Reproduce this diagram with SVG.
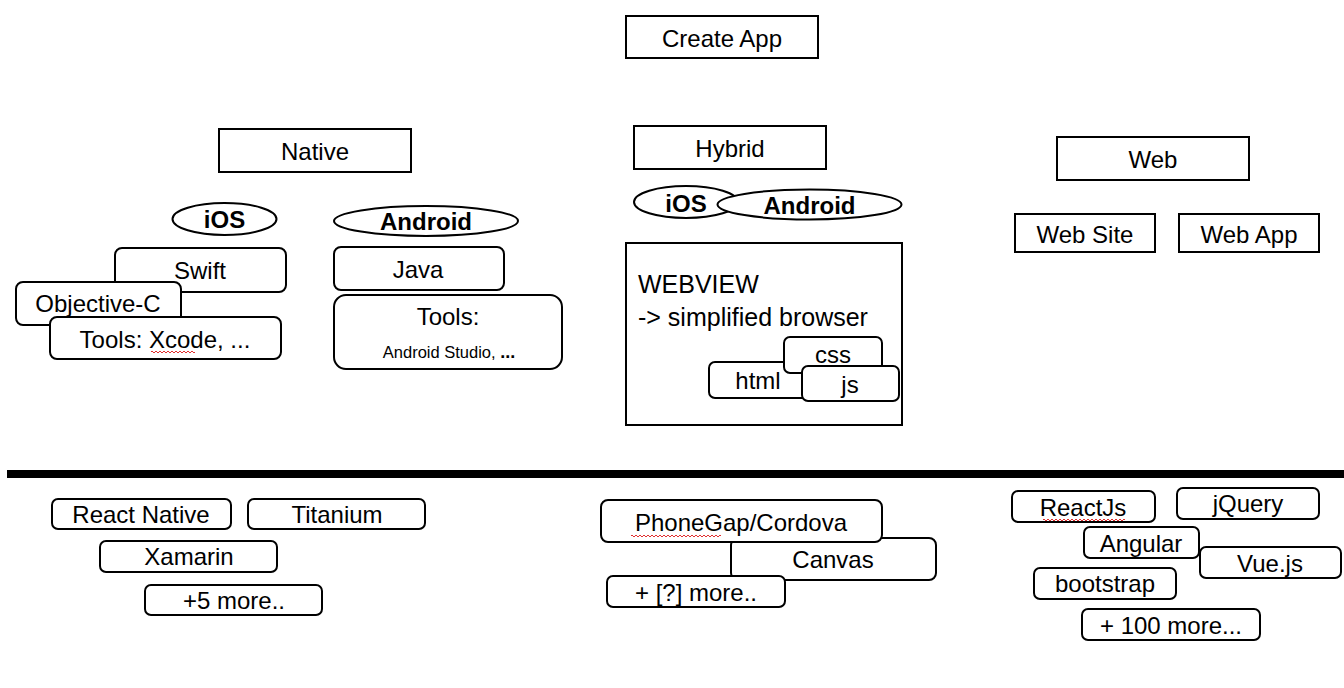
<svg xmlns="http://www.w3.org/2000/svg" width="1344" height="688" viewBox="0 0 1344 688">
<style>
text{font-family:"Liberation Sans",Arial,sans-serif;font-size:24px;fill:#000;text-anchor:middle}
.b{font-weight:bold}
.l{text-anchor:start;font-size:25px}
.box{fill:#fff;stroke:#000;stroke-width:2}
.sq{fill:none;stroke:#e03030;stroke-width:1}
</style>
<rect width="1344" height="688" fill="#fff"/>
<g id="create-app"><rect class="box" x="626" y="16" width="192" height="42"/><text x="722" y="47">Create App</text></g>
<g id="native"><rect class="box" x="219" y="129" width="192" height="43"/><text x="315" y="160">Native</text></g>
<g id="hybrid"><rect class="box" x="634" y="126" width="192" height="43"/><text x="730" y="157">Hybrid</text></g>
<g id="web"><rect class="box" x="1057" y="137" width="192" height="43"/><text x="1153" y="168">Web</text></g>
<g id="web-site"><rect class="box" x="1015" y="214" width="140" height="38"/><text x="1085" y="243">Web Site</text></g>
<g id="web-app"><rect class="box" x="1179" y="214" width="140" height="38"/><text x="1249" y="243">Web App</text></g>

<g id="native-ios"><ellipse class="box" cx="224.5" cy="219" rx="52" ry="16"/><text class="b" x="224.5" y="228">iOS</text></g>
<g id="native-android"><ellipse class="box" cx="426" cy="221" rx="92" ry="15"/><text class="b" x="426" y="230">Android</text></g>
<g id="swift"><rect class="box" x="115" y="248" width="171" height="44" rx="7"/><text x="200" y="279">Swift</text></g>
<g id="objective-c"><rect class="box" x="16" y="282" width="165" height="43" rx="7"/><text x="98" y="312">Objective-C</text></g>
<g id="tools-xcode"><rect class="box" x="50" y="317" width="231" height="42" rx="7"/><text x="165" y="348">Tools: Xcode, ...</text><path class="sq" d="M151 352 q1 -2 2 0 t2 0 t2 0 t2 0 t2 0 t2 0 t2 0 t2 0 t2 0 t2 0 t2 0 t2 0 t2 0 t2 0 t2 0 t2 0 t2 0 t2 0 t2 0 t2 0 t2 0 t2 0"/></g>
<g id="java"><rect class="box" x="334" y="247" width="170" height="43" rx="7"/><text x="418" y="278">Java</text></g>
<g id="tools-android"><rect class="box" x="334" y="295" width="228" height="74" rx="12"/><text x="448" y="325">Tools:</text><text x="449" y="358" style="font-size:16.5px">Android Studio, <tspan class="b" style="font-size:18px">...</tspan></text></g>

<g id="hybrid-ios"><ellipse class="box" cx="686" cy="202" rx="52" ry="16"/><text class="b" x="686" y="212">iOS</text></g>
<g id="hybrid-android"><ellipse class="box" cx="809.5" cy="204.5" rx="92" ry="15"/><text class="b" x="809.5" y="214">Android</text></g>
<g id="webview"><rect class="box" x="626" y="243" width="276" height="182"/><text class="l" x="638" y="293">WEBVIEW</text><text class="l" x="638" y="326">-&gt; simplified browser</text></g>
<g id="html"><rect class="box" x="709" y="362" width="105" height="36" rx="6"/><text x="758" y="389">html</text></g>
<g id="css"><rect class="box" x="784" y="337" width="98" height="36" rx="6"/><text x="833" y="363">css</text></g>
<g id="js"><rect class="box" x="802" y="366" width="97" height="35" rx="6"/><text x="850" y="393">js</text></g>

<g id="connectors"><line x1="7" y1="474" x2="1356" y2="474" stroke="#000" stroke-width="8"/></g>

<g id="react-native"><rect class="box" x="52" y="499" width="179" height="30" rx="6"/><text x="141" y="523">React Native</text></g>
<g id="titanium"><rect class="box" x="248" y="499" width="177" height="30" rx="6"/><text x="337" y="523">Titanium</text></g>
<g id="xamarin"><rect class="box" x="100" y="541" width="177" height="31" rx="6"/><text x="189" y="565">Xamarin</text></g>
<g id="plus5"><rect class="box" x="145" y="585" width="177" height="30" rx="6"/><text x="234" y="609">+5 more..</text></g>

<g id="canvas"><rect class="box" x="731" y="538" width="205" height="42" rx="7"/><text x="833" y="568">Canvas</text></g>
<g id="phonegap"><rect class="box" x="601" y="500" width="281" height="42" rx="7"/><text x="741" y="531">PhoneGap/Cordova</text><path class="sq" d="M631 536 q1 -2 2 0 t2 0 t2 0 t2 0 t2 0 t2 0 t2 0 t2 0 t2 0 t2 0 t2 0 t2 0 t2 0 t2 0 t2 0 t2 0 t2 0 t2 0 t2 0 t2 0 t2 0 t2 0 t2 0 t2 0 t2 0 t2 0 t2 0 t2 0 t2 0 t2 0 t2 0 t2 0 t2 0 t2 0 t2 0 t2 0 t2 0 t2 0 t2 0 t2 0 t2 0 t2 0 t2 0 t2 0 t2 0"/></g>
<g id="plus-q"><rect class="box" x="607" y="576" width="178" height="31" rx="6"/><text x="696" y="601">+ [?] more..</text></g>

<g id="reactjs"><rect class="box" x="1012" y="491" width="143" height="31" rx="6"/><text x="1083" y="516">ReactJs</text><path class="sq" d="M1043 520 q1 -2 2 0 t2 0 t2 0 t2 0 t2 0 t2 0 t2 0 t2 0 t2 0 t2 0 t2 0 t2 0 t2 0 t2 0 t2 0 t2 0 t2 0 t2 0 t2 0 t2 0 t2 0 t2 0 t2 0 t2 0 t2 0 t2 0 t2 0 t2 0 t2 0 t2 0 t2 0 t2 0 t2 0 t2 0 t2 0 t2 0 t2 0 t2 0 t2 0 t2 0 t2 0"/></g>
<g id="jquery"><rect class="box" x="1177" y="488" width="142" height="31" rx="6"/><text x="1248" y="512">jQuery</text></g>
<g id="angular"><rect class="box" x="1084" y="527" width="115" height="31" rx="6"/><text x="1141" y="552">Angular</text></g>
<g id="vuejs"><rect class="box" x="1200" y="547" width="141" height="31" rx="6"/><text x="1270" y="572">Vue.js</text></g>
<g id="bootstrap"><rect class="box" x="1034" y="568" width="142" height="31" rx="6"/><text x="1105" y="592">bootstrap</text></g>
<g id="plus100"><rect class="box" x="1082" y="609" width="178" height="31" rx="6"/><text x="1171" y="634">+ 100 more...</text></g>
</svg>
